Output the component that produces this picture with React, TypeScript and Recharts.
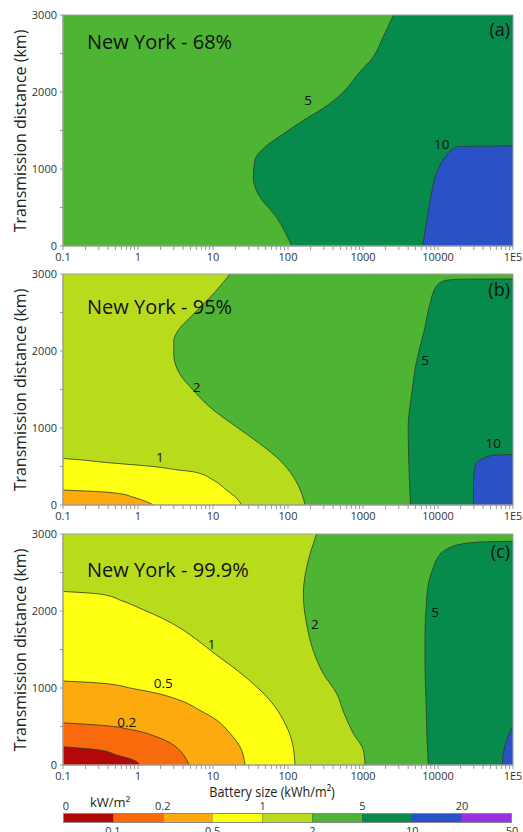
import React from 'react';
import { ComposedChart, Area, XAxis, YAxis, CartesianGrid, ReferenceDot, ReferenceArea } from 'recharts';

const FONT = '"Open Sans", "Noto Sans", sans-serif';

// colour levels (kW/m2)
const LEVEL_LABELS = ['0', '0.1', '0.2', '0.5', '1', '2', '5', '10', '20', '50'];
const LEVEL_COLORS = ['#b20808', '#f86a0c', '#fcaa0e', '#ffff14', '#b8dc1c', '#4db533', '#078b4d', '#2a52c6', '#9a32e2'];

// axes
const X_MAJOR = [0.1, 1, 10, 100, 1000, 10000, 100000];
const MINOR_STEPS = [1, 2, 3, 4, 5, 6, 7, 8, 9];
const Y_TICKS = [0, 500, 1000, 1500, 2000, 2500, 3000];
const Y_LABELED = [0, 1000, 2000, 3000];

// contour boundaries: [transmission distance km, battery size kWh/m2]
// Panel (a) New York 68%
const A_5 = [[0, 112], [369, 70.6], [674, 40], [891, 34.5], [1109, 36], [1282, 49], [1457, 87], [1630, 160], [1804, 311], [1978, 520], [2152, 742], [2217, 832], [2456, 1374], [2717, 1866], [3000, 2538]];
const A_10 = [[0, 6250], [369, 7200], [760, 8490], [978, 9800], [1152, 12400], [1261, 16000], [1291, 18700], [1300, 100000]];
const A_LABELS = [{ text: '5', x: 185, y: 1891 }, { text: '10', x: 11200, y: 1326 }];

// Panel (b) New York 95%
const B_2 = [[0, 169], [151, 152], [366, 118], [582, 78], [797, 42], [1013, 20.7], [1271, 9.1], [1487, 5.5], [1703, 3.6], [1961, 3.0], [2134, 3.0], [2241, 3.3], [2479, 5.5], [2694, 9.1], [3000, 16.9]];
const B_5 = [[0, 4300], [500, 4100], [1013, 4000], [1444, 4460], [1875, 5200], [2306, 6700], [2608, 7800], [2845, 9600], [2909, 11800], [2931, 17700], [2936, 100000]];
const B_10 = [[0, 29600], [300, 29800], [495, 31000], [560, 33500], [604, 40200], [646, 54600], [655, 100000]];
const B_1 = [[0, 24], [86, 20.7], [194, 15.2], [323, 10.1], [431, 5.5], [452, 3.6], [495, 1.77], [560, 0.31], [585, 0.18], [604, 0.1]];
const B_05 = [[0, 1.6], [43, 1.3], [100, 0.87], [150, 0.55], [172, 0.31], [194, 0.1]];
const B_LABELS = [{ text: '1', x: 1.96, y: 625 }, { text: '2', x: 6.06, y: 1530 }, { text: '5', x: 6710, y: 1875 }, { text: '10', x: 54600, y: 797 }];

// Panel (c) New York 99.9%
const C_2 = [[0, 1064], [194, 1009], [410, 743], [668, 560], [927, 446], [1186, 296], [1487, 217], [1832, 177], [2220, 160], [2564, 177], [3000, 241]];
const C_5 = [[0, 7430], [400, 7100], [840, 6920], [1300, 6700], [1703, 6710], [2100, 7000], [2349, 7430], [2564, 8670], [2672, 9600], [2802, 13060], [2866, 19650], [2896, 36300], [2905, 100000]];
const C_10 = [[0, 72000], [151, 74300], [323, 82400], [420, 90000], [496, 100000]];
const C_1 = [[0, 124], [323, 112], [582, 86.7], [840, 57.5], [1056, 34.4], [1271, 18.5], [1444, 10.6], [1616, 6.3], [1771, 3.74], [1901, 2.15], [2017, 1.17], [2133, 0.61], [2220, 0.31], [2254, 0.1]];
const C_05 = [[0, 26.7], [237, 22.9], [410, 16.9], [582, 11.2], [711, 6.67], [840, 3.63], [930, 1.8], [991, 0.87], [1064, 0.31], [1090, 0.1]];
const C_02 = [[0, 4.8], [151, 3.9], [237, 3.2], [366, 1.77], [453, 0.87], [517, 0.31], [547, 0.1]];
const C_01 = [[0, 1.06], [65, 0.87], [129, 0.52], [194, 0.31], [237, 0.1]];
const C_LABELS = [{ text: '1', x: 9.6, y: 1573 }, { text: '0.5', x: 2.17, y: 1064 }, { text: '0.2', x: 0.707, y: 560 }, { text: '2', x: 229, y: 1832 }, { text: '5', x: 9120, y: 1982 }];

const PANELS = [
  {
    id: 'a', title: 'New York - 68%', tag: '(a)', bg: 5,
    right: [{ key: 'a5', level: 6, pts: A_5 }, { key: 'a10', level: 7, pts: A_10 }],
    left: [], labels: A_LABELS,
  },
  {
    id: 'b', title: 'New York - 95%', tag: '(b)', bg: 4,
    right: [{ key: 'b2', level: 5, pts: B_2 }, { key: 'b5', level: 6, pts: B_5 }, { key: 'b10', level: 7, pts: B_10 }],
    left: [{ key: 'b1', level: 3, pts: B_1 }, { key: 'b05', level: 2, pts: B_05 }], labels: B_LABELS,
  },
  {
    id: 'c', title: 'New York - 99.9%', tag: '(c)', bg: 4,
    right: [{ key: 'c2', level: 5, pts: C_2 }, { key: 'c5', level: 6, pts: C_5 }, { key: 'c10', level: 7, pts: C_10 }],
    left: [{ key: 'c1', level: 3, pts: C_1 }, { key: 'c05', level: 2, pts: C_05 }, { key: 'c02', level: 1, pts: C_02 }, { key: 'c01', level: 0, pts: C_01 }], labels: C_LABELS,
  },
];

// layout (pixels)
const CHART_TOPS = [0, 259, 519];
const TITLE_TOPS = [31.5, 296.5, 559.5];
const TAG_TOPS = [20, 280, 542];
const CHART_H = 271;

const X_TICKS = X_MAJOR.slice(0, -1).flatMap((d) => MINOR_STEPS.map((k) => d * k)).concat([100000]);
const fmtX = (v: number) => {
  const m = X_MAJOR.find((t) => Math.abs(t - v) < t * 1e-6);
  if (m === undefined) return '';
  return m === 100000 ? '1E5' : String(m);
};
const fmtY = (v: number) => (Y_LABELED.includes(v) ? String(v) : '');

function buildRows(series: { key: string; pts: number[][] }[]) {
  const rows: any[] = [];
  series.forEach((s) => s.pts.forEach(([y, x]) => rows.push({ y, [s.key]: x })));
  return rows;
}

const LINE = '#2e3a20';

function Panel({ p }: { p: any }) {
  const rows = buildRows([...p.right, ...p.left]);
  return (
    <ComposedChart
      width={523}
      height={CHART_H}
      layout="vertical"
      data={rows}
      margin={{ top: 15, right: 10, bottom: 5, left: 0 }}
      style={{ fontFamily: FONT }}
    >
      <CartesianGrid fill={LEVEL_COLORS[p.bg]} fillOpacity={1} horizontal={false} vertical={false} stroke="none" />
      <XAxis
        type="number"
        scale="log"
        domain={[0.1, 100000]}
        allowDataOverflow
        ticks={X_TICKS}
        tickFormatter={fmtX}
        interval={0}
        tickSize={4}
        tickMargin={3}
        height={20}
        stroke="#999"
        tick={{ fontSize: 11, fill: '#333', fontFamily: FONT }}
      />
      <YAxis
        type="number"
        dataKey="y"
        domain={[0, 3000]}
        allowDataOverflow
        reversed
        ticks={Y_TICKS}
        tickFormatter={fmtY}
        interval={0}
        tickSize={3}
        tickMargin={3}
        width={63}
        stroke="#999"
        tick={{ fontSize: 11, fill: '#333', fontFamily: FONT }}
      />
      {p.right.map((s: any) => (
        <Area
          key={s.key}
          dataKey={s.key}
          type="monotone"
          baseValue="dataMax"
          connectNulls
          fill={LEVEL_COLORS[s.level]}
          fillOpacity={1}
          stroke={LINE}
          strokeWidth={0.8}
          dot={false}
          activeDot={false}
          isAnimationActive={false}
        />
      ))}
      {p.left.map((s: any) => (
        <Area
          key={s.key}
          dataKey={s.key}
          type="monotone"
          connectNulls
          fill={LEVEL_COLORS[s.level]}
          fillOpacity={1}
          stroke={LINE}
          strokeWidth={0.8}
          dot={false}
          activeDot={false}
          isAnimationActive={false}
        />
      ))}
      <ReferenceArea x1={0.1} x2={100000} y1={0} y2={3000} fill="none" stroke="#a0a0a0" strokeWidth={1} />
      {p.labels.map((l: any, i: number) => (
        <ReferenceDot
          key={i}
          x={l.x}
          y={l.y}
          r={0}
          fill="none"
          stroke="none"
          label={{ value: l.text, position: 'center', fontSize: 13.5, fill: '#111', fontFamily: FONT }}
        />
      ))}
    </ComposedChart>
  );
}

export default function App() {
  return (
    <div style={{ position: 'absolute', left: 0, top: 0, width: 523, height: 832, overflow: 'hidden', background: '#fff', fontFamily: FONT }}>
      {PANELS.map((p, i) => (
        <React.Fragment key={p.id}>
          <div style={{ position: 'absolute', left: 0, top: CHART_TOPS[i] }}>
            <Panel p={p} />
          </div>
          <div style={{ position: 'absolute', left: 20, top: CHART_TOPS[i] + 15 + 115.5, transform: 'translate(-50%, -50%) rotate(-90deg)', whiteSpace: 'nowrap', fontSize: 16, color: '#222', lineHeight: 1 }}>
            Transmission distance (km)
          </div>
          <div style={{ position: 'absolute', left: 87, top: TITLE_TOPS[i], fontSize: 20, lineHeight: 1, color: '#111', whiteSpace: 'nowrap' }}>
            {p.title}
          </div>
          <div style={{ position: 'absolute', right: 13, top: TAG_TOPS[i], fontSize: 18, lineHeight: 1, color: '#111' }}>
            {p.tag}
          </div>
        </React.Fragment>
      ))}
      <div style={{ position: 'absolute', left: 272, top: 784, transform: 'translateX(-50%) scaleX(0.84)', fontSize: 15, lineHeight: '14px', color: '#222', whiteSpace: 'nowrap' }}>
        Battery size (kWh/m²)
      </div>
      <div style={{ position: 'absolute', left: 90, top: 796, fontSize: 13, lineHeight: 1, color: '#222' }}>kW/m²</div>
      <div style={{ position: 'absolute', left: 63, top: 813, width: 449, height: 10, display: 'flex', border: '1px solid #888', boxSizing: 'border-box' }}>
        {LEVEL_COLORS.map((c, i) => (
          <div key={i} style={{ flex: 1, background: c, borderLeft: i ? '1px solid rgba(80,80,80,0.35)' : 'none' }} />
        ))}
      </div>
      {LEVEL_LABELS.map((t, i) => (
        <div key={t} style={{ position: 'absolute', left: 63 + (449 * i) / 9 + (i === 0 ? 3 : 0), top: i % 2 === 0 ? 800 : 825, transform: 'translateX(-50%)', fontSize: 11, lineHeight: '11px', color: '#333' }}>
          {t}
        </div>
      ))}
    </div>
  );
}
